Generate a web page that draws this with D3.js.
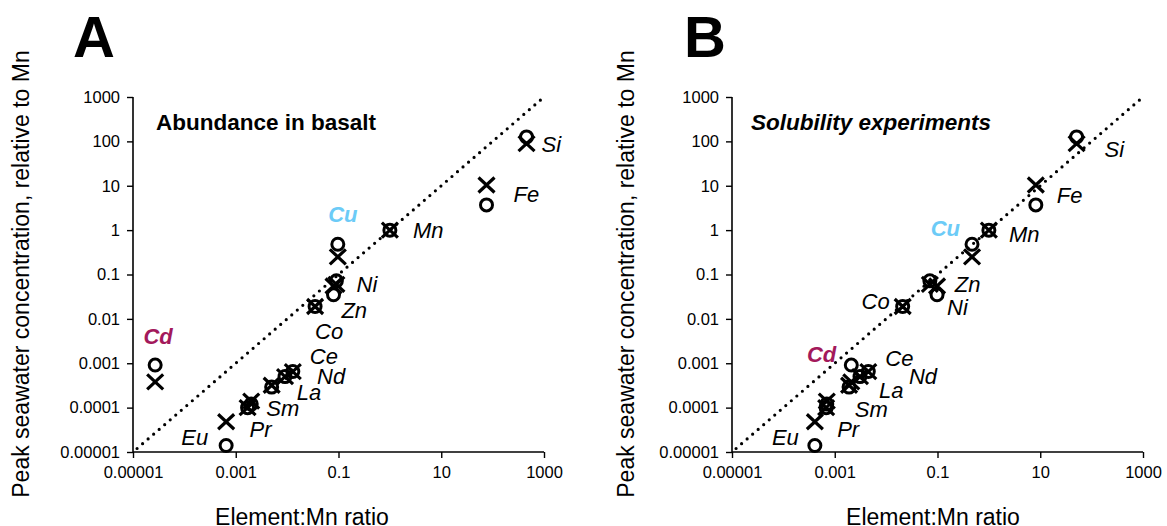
<!DOCTYPE html>
<html>
<head>
<meta charset="utf-8">
<script src="https://cdn.jsdelivr.net/npm/d3@7"></script>
<style>
  body { margin: 0; background: #fff; }
  svg { font-family: "Liberation Sans", Arial, Helvetica, sans-serif; }
</style>
</head>
<body>
<svg id="chart" width="1167" height="526"></svg>
<script>
// element names, same order in every array below
const elements = ["Si", "Fe", "Mn", "Cu", "Ni", "Zn", "Co", "Cd", "Ce", "Nd", "La", "Sm", "Pr", "Eu"];

// peak seawater concentration relative to Mn (same in both panels)
const circleY = [126, 3.7, 1, 0.48, 0.035, 0.072, 0.019, 0.00091, 0.00065, 0.0005, 0.00029, 0.00012, 0.0001, 0.000014];
const crossY  = [89, 10.4, 1, 0.25, 0.055, 0.06, 0.019, 0.00038, 0.00065, 0.0005, 0.00032, 0.00014, 0.0001, 0.000048];

// element:Mn ratio, panel A (abundance in basalt) and panel B (solubility experiments)
const ratioBasalt = [457, 76, 1, 0.097, 0.08, 0.091, 0.035, 0.000027, 0.0129, 0.0091, 0.005, 0.002, 0.0017, 0.00065];
const ratioSolub  = [51, 8.2, 1, 0.47, 0.098, 0.071, 0.021, 0.0021, 0.0045, 0.0031, 0.0019, 0.0007, 0.00068, 0.00041];

const xTicks = [0.00001, 0.001, 0.1, 10, 1000];
const yTicks = [0.00001, 0.0001, 0.001, 0.01, 0.1, 1, 10, 100, 1000];
const tickText = v => v >= 1 ? String(v) : v.toFixed(Math.round(-Math.log10(v)));

const highlight = { Cd: "#a3195b", Cu: "#6ccbf7" };

// label placement next to each element: [dx, dy, anchor]
const labelsA = {
  Si: [15, 15, "start"], Fe: [27, -3, "start"], Mn: [23, 8, "start"], Cu: [5, -22, "middle"],
  Ni: [23, -3, "start"], Zn: [5, 37, "start"], Co: [0, 32, "start"], Cd: [3, -21, "middle"],
  Ce: [17, -8, "start"], Nd: [32, 7, "start"], La: [25, 13, "start"], Sm: [15, 12, "start"],
  Pr: [2, 29, "start"], Eu: [-18, -1, "end"]
};
const labelsB = {
  Si: [28, 20, "start"], Fe: [21, -2, "start"], Mn: [20, 12, "start"], Cu: [-12, -8, "end"],
  Ni: [10, 20, "start"], Zn: [25, 11, "start"], Co: [-13, 2, "end"], Cd: [-15, -3, "end"],
  Ce: [17, -6, "start"], Nd: [49, 7, "start"], La: [30, 11, "start"], Sm: [28, 13, "start"],
  Pr: [11, 29, "start"], Eu: [-16, -1, "end"]
};

const svg = d3.select("#chart");

function drawPanel(opt) {
  const x = d3.scaleLog().domain([1e-5, 1e3]).range([opt.left, opt.left + 411]);
  const y = d3.scaleLog().domain([1e-5, 1e3]).range([452, 97]);
  const g = svg.append("g");

  // axes
  g.append("g")
    .attr("transform", "translate(0,452)")
    .call(d3.axisBottom(x).tickValues(xTicks).tickFormat(tickText).tickSize(6).tickPadding(8))
    .call(a => a.select(".domain").attr("stroke-width", 1.6).attr("d", `M${opt.left},0H${opt.left + 411}`))
    .call(a => a.selectAll("line").attr("stroke-width", 1.4))
    .call(a => a.selectAll("text").attr("font-size", "16.5px").attr("fill", "#000").attr("font-family", null));

  g.append("g")
    .attr("transform", `translate(${opt.left},0)`)
    .call(d3.axisLeft(y).tickValues(yTicks).tickFormat(tickText).tickSize(6).tickPadding(7))
    .call(a => a.select(".domain").attr("stroke-width", 1.6).attr("d", "M0,452V97"))
    .call(a => a.selectAll("line").attr("stroke-width", 1.4))
    .call(a => a.selectAll("text").attr("font-size", "16.5px").attr("fill", "#000").attr("font-family", null));

  // 1:1 line
  g.append("line")
    .attr("x1", x(1.2e-5)).attr("y1", y(1.2e-5))
    .attr("x2", x(1000)).attr("y2", y(1000))
    .attr("stroke", "#000")
    .attr("stroke-width", 3.2)
    .attr("stroke-linecap", "round")
    .attr("stroke-dasharray", "0,7.3");

  const pts = elements.map((e, i) => ({ name: e, rx: opt.ratio[i], c: circleY[i], k: crossY[i] }));

  // crosses
  g.selectAll(".cross").data(pts).enter().append("path")
    .attr("class", "cross")
    .attr("d", d => {
      const cx = x(d.rx), cy = y(d.k);
      return `M${cx - 8},${cy - 7.5}L${cx + 8},${cy + 7.5}M${cx - 8},${cy + 7.5}L${cx + 8},${cy - 7.5}`;
    })
    .attr("stroke", "#000")
    .attr("stroke-width", 3.2)
    .attr("fill", "none");

  // circles
  g.selectAll(".circ").data(pts).enter().append("circle")
    .attr("class", "circ")
    .attr("cx", d => x(d.rx))
    .attr("cy", d => y(d.c))
    .attr("r", 6)
    .attr("fill", "none")
    .attr("stroke", "#000")
    .attr("stroke-width", 3);

  // element labels
  g.selectAll(".lbl").data(pts).enter().append("text")
    .attr("class", "lbl")
    .attr("x", d => x(d.rx) + opt.labels[d.name][0])
    .attr("y", d => y(d.c) + opt.labels[d.name][1])
    .attr("text-anchor", d => opt.labels[d.name][2])
    .attr("font-size", "22px")
    .attr("font-style", "italic")
    .attr("font-weight", d => highlight[d.name] ? "bold" : "normal")
    .attr("fill", d => highlight[d.name] || "#000")
    .text(d => d.name);

  // panel letter and subtitle
  g.append("text")
    .attr("x", opt.letterX).attr("y", 57)
    .attr("font-size", "58px").attr("font-weight", "bold")
    .text(opt.letter);

  g.append("text")
    .attr("x", opt.subX).attr("y", 130)
    .attr("font-size", "22.5px").attr("font-weight", "bold")
    .attr("font-style", opt.subItalic ? "italic" : "normal")
    .text(opt.subtitle);

  // axis titles
  g.append("text")
    .attr("transform", `translate(${opt.yTitleX},274) rotate(-90)`)
    .attr("text-anchor", "middle")
    .attr("font-size", "23px")
    .text("Peak seawater concentration, relative to Mn");

  g.append("text")
    .attr("x", opt.xTitleX).attr("y", 525)
    .attr("text-anchor", "middle")
    .attr("font-size", "23px")
    .text("Element:Mn ratio");
}

drawPanel({ left: 133, ratio: ratioBasalt, labels: labelsA, letter: "A", letterX: 73,
  subtitle: "Abundance in basalt", subX: 156, subItalic: false, yTitleX: 29, xTitleX: 302 });
drawPanel({ left: 732, ratio: ratioSolub, labels: labelsB, letter: "B", letterX: 684,
  subtitle: "Solubility experiments", subX: 751, subItalic: true, yTitleX: 634, xTitleX: 933 });
</script>
</body>
</html>
